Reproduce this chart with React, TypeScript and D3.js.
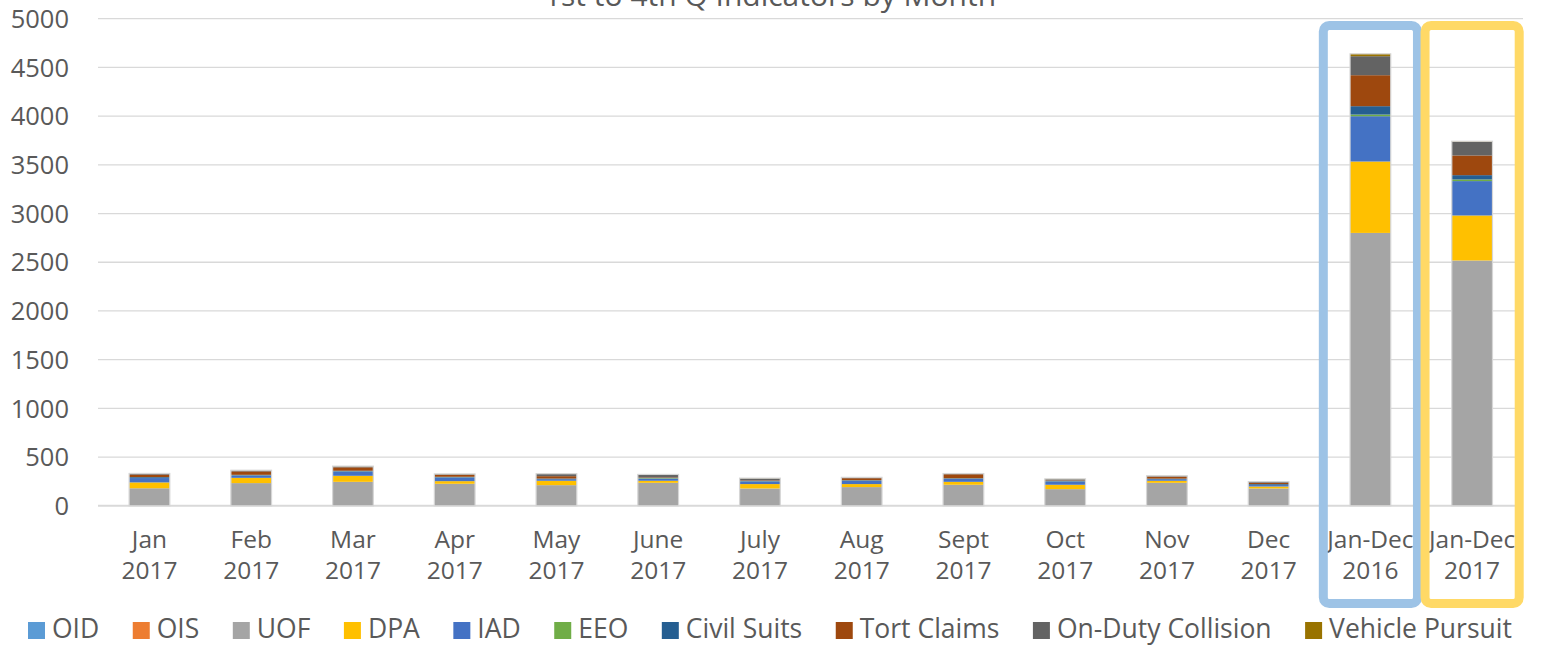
import React, { useEffect, useRef } from 'react';
import * as d3 from 'd3';

const categories = [
  ['Jan', '2017'], ['Feb', '2017'], ['Mar', '2017'], ['Apr', '2017'], ['May', '2017'],
  ['June', '2017'], ['July', '2017'], ['Aug', '2017'], ['Sept', '2017'], ['Oct', '2017'],
  ['Nov', '2017'], ['Dec', '2017'], ['Jan-Dec', '2016'], ['Jan-Dec', '2017']
];

const seriesNames = ['OID', 'OIS', 'UOF', 'DPA', 'IAD', 'EEO', 'Civil Suits', 'Tort Claims', 'On-Duty Collision', 'Vehicle Pursuit'];
const seriesColors = ['#5B9BD5', '#ED7D31', '#A5A5A5', '#FFC000', '#4472C4', '#70AD47', '#255E91', '#9E480E', '#636363', '#997300'];

const oid = [0, 0, 0, 0, 0, 0, 0, 0, 0, 0, 0, 0, 3, 2];
const ois = [0, 0, 0, 0, 0, 0, 0, 0, 0, 0, 0, 0, 2, 1];
const uof = [180, 233, 246, 226, 212, 236, 178, 192, 216, 171, 236, 178, 2796, 2515];
const dpa = [60, 54, 62, 27, 45, 21, 45, 31, 30, 45, 21, 20, 733, 462];
const iad = [45, 24, 44, 38, 17, 23, 27, 34, 31, 34, 17, 15, 465, 353];
const eeo = [2, 2, 2, 2, 2, 5, 2, 2, 2, 2, 2, 2, 17, 17];
const civilSuits = [8, 5, 6, 5, 4, 5, 5, 4, 4, 5, 3, 8, 86, 44];
const tortClaims = [25, 35, 35, 20, 24, 5, 5, 20, 41, 5, 21, 13, 318, 202];
const collision = [10, 10, 10, 7, 23, 25, 20, 7, 5, 12, 6, 10, 195, 141];
const pursuit = [2, 2, 2, 2, 2, 2, 2, 2, 2, 2, 2, 2, 24, 5];

const yTicks = [0, 500, 1000, 1500, 2000, 2500, 3000, 3500, 4000, 4500, 5000];
const highlightColors = ['#9DC3E6', '#FFD966'];
const title = '1st to 4th Q Indicators by Month';

const FONT = '"Open Sans", "Noto Sans", sans-serif';
const TEXT = '#595959';

export default function App() {
  const ref = useRef<SVGSVGElement>(null);

  useEffect(() => {
    const svg = d3.select(ref.current);
    svg.selectAll('*').remove();

    const allSeries = [oid, ois, uof, dpa, iad, eeo, civilSuits, tortClaims, collision, pursuit];
    const rows = categories.map((c, i) => {
      const row: any = { key: c.join(' ') };
      seriesNames.forEach((s, j) => { row[s] = allSeries[j][i]; });
      return row;
    });

    const x = d3.scaleBand<string>()
      .domain(rows.map(r => r.key))
      .range([98.6, 1523])
      .padding(0);
    const barW = x.bandwidth() * 0.4;

    const y = d3.scaleLinear().domain([0, 5000]).range([505.8, 18.7]);

    // title, mostly cut off at the top like the original
    svg.append('text')
      .attr('x', 770)
      .attr('y', 6)
      .attr('text-anchor', 'middle')
      .attr('font-family', FONT)
      .attr('font-size', 30)
      .attr('fill', TEXT)
      .text(title);

    // grid
    svg.append('g').selectAll('line').data(yTicks).enter().append('line')
      .attr('x1', 98).attr('x2', 1523)
      .attr('y1', d => y(d)).attr('y2', d => y(d))
      .attr('stroke', '#d9d9d9')
      .attr('stroke-width', d => d === 0 ? 2 : 1.3);

    svg.append('g').selectAll('text').data(yTicks).enter().append('text')
      .attr('x', 69)
      .attr('y', d => y(d))
      .attr('dy', '0.36em')
      .attr('text-anchor', 'end')
      .attr('font-family', FONT)
      .attr('font-size', 25.5)
      .attr('fill', TEXT)
      .text(d => d);

    // stacked bars
    const stack = d3.stack<any>().keys(seriesNames);
    const layers = stack(rows);
    layers.forEach((layer, li) => {
      svg.append('g').selectAll('rect').data(layer).enter().append('rect')
        .attr('x', d => (x(d.data.key) as number) + (x.bandwidth() - barW) / 2)
        .attr('width', barW)
        .attr('y', d => y(d[1]))
        .attr('height', d => Math.max(0, y(d[0]) - y(d[1])))
        .attr('fill', seriesColors[li]);
    });

    // light outline round each stack
    svg.append('g').selectAll('rect').data(layers[layers.length - 1]).enter().append('rect')
      .attr('x', d => (x(d.data.key) as number) + (x.bandwidth() - barW) / 2)
      .attr('width', barW)
      .attr('y', d => y(d[1]))
      .attr('height', d => y(0) - y(d[1]))
      .attr('fill', 'none')
      .attr('stroke', '#d6d6d6')
      .attr('stroke-width', 1.2);

    // category labels
    const xl = svg.append('g').selectAll('text').data(categories).enter().append('text')
      .attr('text-anchor', 'middle')
      .attr('font-family', FONT)
      .attr('font-size', 24.5)
      .attr('fill', TEXT);
    xl.append('tspan')
      .attr('x', (d, i) => (x(rows[i].key) as number) + x.bandwidth() / 2)
      .attr('y', 548)
      .text(d => d[0]);
    xl.append('tspan')
      .attr('x', (d, i) => (x(rows[i].key) as number) + x.bandwidth() / 2)
      .attr('y', 579)
      .text(d => d[1]);

    // boxes round the two yearly totals
    const totals = rows.slice(-2);
    svg.append('g').selectAll('rect').data(totals).enter().append('rect')
      .attr('x', d => (x(d.key) as number) + 3.8)
      .attr('width', x.bandwidth() - 7.6)
      .attr('y', 25.5)
      .attr('height', 603.5 - 25.5)
      .attr('rx', 6)
      .attr('fill', 'none')
      .attr('stroke', (d, i) => highlightColors[i])
      .attr('stroke-width', 9);

    // legend
    const legend = svg.append('g');
    let lx = 28;
    seriesNames.forEach((s, i) => {
      legend.append('rect')
        .attr('x', lx).attr('y', 622)
        .attr('width', 17).attr('height', 17)
        .attr('fill', seriesColors[i]);
      const t = legend.append('text')
        .attr('x', lx + 24)
        .attr('y', 638)
        .attr('font-family', FONT)
        .attr('font-size', 26.5)
        .attr('fill', TEXT)
        .text(s);
      const w = (t.node() as SVGTextElement).getComputedTextLength();
      lx += 24 + w + 33.5;
    });
  }, []);

  return (
    <svg ref={ref} width={1551} height={646}
      style={{ position: 'absolute', left: 0, top: 0, background: '#fff' }} />
  );
}
